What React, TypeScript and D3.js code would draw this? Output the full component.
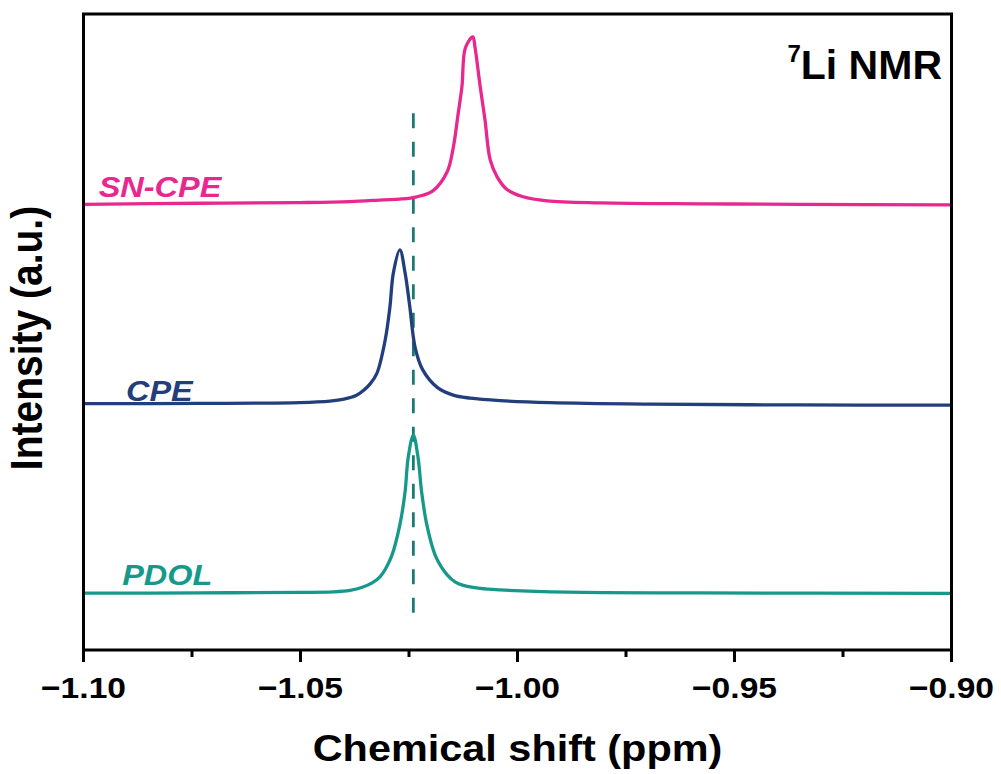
import React from "react";
import * as d3 from "d3";

// ---- data ----
const seriesNames = ["SN-CPE", "CPE", "PDOL"];
const seriesColors = ["#e8288f", "#233e7c", "#16998b"];
const seriesOffsets = [70.0, 38.5, 8.9];

const snCpeShift = [-1.1, -1.0732, -1.0502, -1.0386, -1.0308, -1.0271, -1.0232, -1.0195, -1.0162, -1.0148, -1.0137, -1.0128, -1.012, -1.0103, -1.0098, -1.0086, -1.0075, -1.0063, -1.0047, -1.0024, -0.9987, -0.9932, -0.9809, -0.9579, -0.9348, -0.9];
const snCpeIntensity = [0.08, 0.24, 0.35, 0.5, 0.79, 0.9, 1.26, 2.2, 5.2, 9.0, 14.2, 18.6, 24.7, 26.4, 24.8, 18.6, 13.4, 7.1, 4.4, 2.4, 1.26, 0.63, 0.31, 0.16, 0.08, 0.0];

const cpeShift = [-1.1, -1.0732, -1.0502, -1.0432, -1.04, -1.0372, -1.0354, -1.034, -1.0324, -1.0305, -1.0294, -1.0286, -1.0271, -1.0259, -1.0248, -1.0236, -1.0218, -1.0185, -1.0148, -1.0109, -1.004, -0.9925, -0.9694, -0.9348, -0.9];
const cpeIntensity = [0.24, 0.27, 0.39, 0.63, 0.94, 1.5, 2.36, 3.3, 5.0, 10.2, 15.4, 20.8, 24.4, 20.8, 15.4, 9.1, 5.5, 2.8, 1.57, 1.1, 0.71, 0.39, 0.16, 0.03, 0.0];

const pdolShift = [-1.1, -1.0732, -1.0502, -1.0425, -1.0386, -1.0356, -1.0335, -1.0317, -1.0303, -1.0289, -1.0271, -1.0259, -1.0252, -1.024, -1.0229, -1.0221, -1.0209, -1.019, -1.0176, -1.0162, -1.0144, -1.0125, -1.0086, -1.004, -0.9885, -0.9579, -0.9];
const pdolIntensity = [0.03, 0.08, 0.16, 0.24, 0.47, 1.0, 1.65, 2.6, 4.0, 6.05, 10.8, 16.0, 21.3, 24.9, 21.3, 16.0, 10.8, 6.05, 4.2, 2.9, 1.8, 1.26, 0.79, 0.55, 0.19, 0.08, 0.0];

const seriesShifts = [snCpeShift, cpeShift, pdolShift];
const seriesIntensities = [snCpeIntensity, cpeIntensity, pdolIntensity];

const majorTicks = [-1.1, -1.05, -1.0, -0.95, -0.9];
const minorTicks = [-1.075, -1.025, -0.975, -0.925];
const referenceShift = -1.024;
const referenceRange = [4.25, 84.4];

const xTitle = "Chemical shift (ppm)";
const yTitle = "Intensity (a.u.)";

const labelPositions = [
  { x: -1.0965, y: 71.3 },
  { x: -1.0902, y: 39.1 },
  { x: -1.0911, y: 10.2 },
];

export default function App() {
  const W = 1001;
  const H = 774;
  const left = 83.5, right = 951.5, top = 14, bottom = 650;
  const x = d3.scaleLinear().domain([-1.1, -0.9]).range([left, right]);
  const y = d3.scaleLinear().domain([0, 100]).range([bottom, top]);
  const fmt = d3.format(".2f");
  const font = "'Liberation Sans', Arial, Helvetica, sans-serif";
  const sx = 1.12;

  return (
    <svg width={W} height={H} style={{ position: "absolute", left: 0, top: 0, background: "#fff" }}>
      <rect x={0} y={0} width={W} height={H} fill="#fff" />
      {/* reference dashed line */}
      <line
        x1={x(referenceShift)}
        x2={x(referenceShift)}
        y1={y(referenceRange[1])}
        y2={y(referenceRange[0])}
        stroke="#1c7a72"
        strokeWidth={2.8}
        strokeDasharray="15,13.5"
      />
      {seriesNames.map((name, i) => {
        const pts = seriesShifts[i].map((s, j) => [s, seriesIntensities[i][j] + seriesOffsets[i]] as [number, number]);
        const line = d3
          .line<[number, number]>()
          .x((d) => x(d[0]))
          .y((d) => y(d[1]))
          .curve(d3.curveCatmullRom.alpha(0.5));
        return (
          <path key={name} d={line(pts) || ""} fill="none" stroke={seriesColors[i]} strokeWidth={3.3} strokeLinejoin="round" />
        );
      })}
      {seriesNames.map((name, i) => (
        <text
          key={name + "-label"}
          transform={`translate(${x(labelPositions[i].x)},${y(labelPositions[i].y)}) scale(${sx},1)`}
          fontFamily={font}
          fontWeight="bold"
          fontStyle="italic"
          fontSize={29}
          fill={seriesColors[i]}
        >
          {name}
        </text>
      ))}
      {/* frame */}
      <rect x={left} y={top} width={right - left} height={bottom - top} fill="none" stroke="#000" strokeWidth={3} />
      {/* ticks */}
      {majorTicks.map((t) => (
        <g key={"M" + t}>
          <line x1={x(t)} x2={x(t)} y1={bottom} y2={bottom + 12} stroke="#000" strokeWidth={3} />
          <text
            transform={`translate(${x(t)},698) scale(${sx},1)`}
            textAnchor="middle"
            fontFamily={font}
            fontWeight="bold"
            fontSize={30}
            fill="#000"
          >
            {fmt(t)}
          </text>
        </g>
      ))}
      {minorTicks.map((t) => (
        <line key={"m" + t} x1={x(t)} x2={x(t)} y1={bottom} y2={bottom + 7} stroke="#000" strokeWidth={3} />
      ))}
      <text
        transform={`translate(${(left + right) / 2},761) scale(${sx},1)`}
        textAnchor="middle"
        fontFamily={font}
        fontWeight="bold"
        fontSize={37}
        fill="#000"
      >
        {xTitle}
      </text>
      <text
        transform={`translate(42,338) scale(${sx},1) rotate(-90)`}
        textAnchor="middle"
        fontFamily={font}
        fontWeight="bold"
        fontSize={39}
        fill="#000"
      >
        {yTitle}
      </text>
      <text x={942} y={79} textAnchor="end" fontFamily={font} fontWeight="bold" fontSize={41} fill="#000">
        <tspan fontSize={24} dy={-17}>7</tspan>
        <tspan dy={17}>Li NMR</tspan>
      </text>
    </svg>
  );
}
